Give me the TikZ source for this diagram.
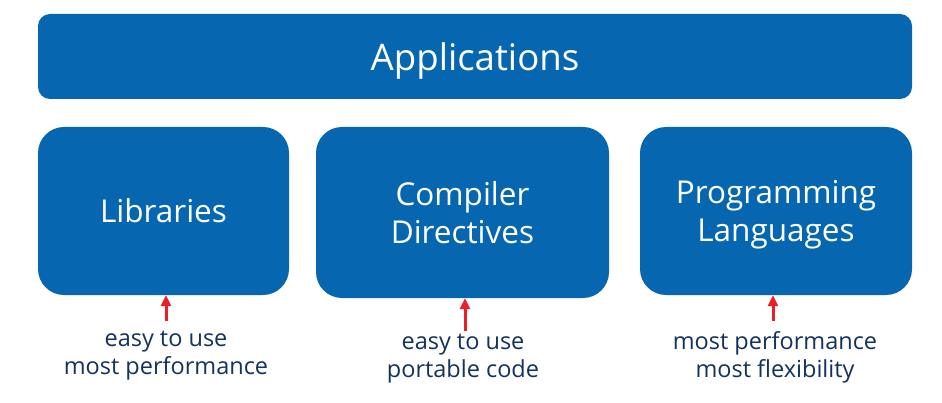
\documentclass[tikz,border=0pt]{standalone}
\usepackage{fontspec}
\setmainfont{Open Sans}
\usetikzlibrary{arrows.meta}
\definecolor{boxblue}{HTML}{0667B0}
\definecolor{labelblue}{HTML}{13335E}
\definecolor{arrowred}{HTML}{EE1C25}
\tikzset{
  blk/.style={fill=boxblue, draw=none, text=white, align=center, inner sep=0pt, text depth=0pt},
  lbl/.style={text=labelblue, align=center, font=\fontsize{23.5}{28}\selectfont, inner sep=0pt, text depth=0pt},
  uparrow/.style={draw=arrowred, line width=3pt, -{Triangle[width=10pt,length=11pt]}}
}
\begin{document}
\begin{tikzpicture}[x=1pt,y=-1pt]
\useasboundingbox (0,0) rectangle (942,403);
\fill[white] (0,0) rectangle (942,403);
% boxes
\node[blk, rounded corners=12pt, minimum width=874pt, minimum height=85pt, font=\fontsize{36.6}{42}\selectfont] (app) at (475,56.5) {Applications};
\node[blk, rounded corners=26pt, minimum width=251pt, minimum height=168pt, font=\fontsize{31.5}{38}\selectfont] (lib) at (163.5,211) {Libraries};
\node[blk, rounded corners=26pt, minimum width=293pt, minimum height=171pt, font=\fontsize{31.5}{38}\selectfont] (comp) at (462.5,212.5) {Compiler\\Directives};
\node[blk, rounded corners=26pt, minimum width=272pt, minimum height=168pt, font=\fontsize{31.5}{38}\selectfont] (prog) at (776,211) {Programming\\Languages};
% labels
\node[lbl] (llib) at (166,353) {easy to use\\most performance};
\node[lbl] (lcomp) at (463,356) {easy to use\\portable code};
\node[lbl] (lprog) at (775,355) {most performance\\most flexibility};
% arrows
\coordinate (a1) at (166,321);
\coordinate (a2) at (465,331);
\coordinate (a3) at (773,321);
\draw[uparrow] (a1) -- (lib.south -| a1);
\draw[uparrow] (a2) -- (comp.south -| a2);
\draw[uparrow] (a3) -- (prog.south -| a3);
\end{tikzpicture}
\end{document}
